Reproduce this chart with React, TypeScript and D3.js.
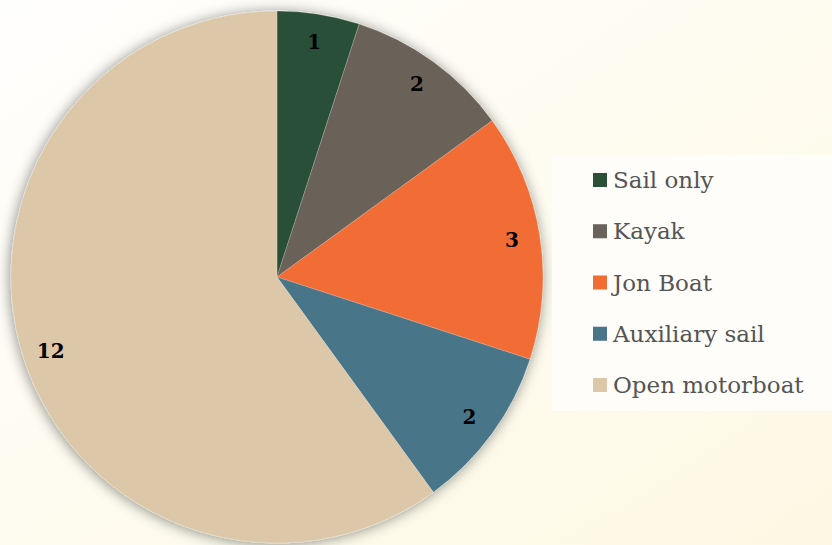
import React from "react";
import * as d3 from "d3";

const categories = ["Sail only", "Kayak", "Jon Boat", "Auxiliary sail", "Open motorboat"];
const values = [1, 2, 3, 2, 12];
const colors = ["#2b5037", "#6b6259", "#f26d35", "#4a7489", "#dcc8a8"];

const W = 832;
const H = 545;

export default function App() {
  const cx = 277;
  const cy = 277;
  const R = 266;
  const pie = d3.pie<number>().sort(null).value((d) => d)(values);
  const arc = d3.arc<d3.PieArcDatum<number>>().innerRadius(0).outerRadius(R);
  const labelArc = d3.arc<d3.PieArcDatum<number>>().innerRadius(238).outerRadius(238);
  const legendY = d3.scalePoint<string>().domain(categories).range([180, 385]);

  return (
    <svg width={W} height={H} style={{ position: "absolute", left: 0, top: 0, display: "block" }}>
      <defs>
        <linearGradient id="bg" x1="0" y1="0" x2="1" y2="1">
          <stop offset="0" stopColor="#fefefd" />
          <stop offset="0.5" stopColor="#fefcf0" />
          <stop offset="1" stopColor="#fdf8e3" />
        </linearGradient>
        <filter id="shadow" x="-20%" y="-20%" width="140%" height="140%">
          <feDropShadow dx="-1" dy="1" stdDeviation="7" floodColor="#000" floodOpacity="0.45" />
        </filter>
      </defs>
      <rect x={0} y={0} width={W} height={H} fill="url(#bg)" />
      <g transform={`translate(${cx},${cy})`} filter="url(#shadow)">
        {pie.map((p, i) => (
          <path key={i} d={arc(p) || ""} fill={colors[i]} stroke="#ffffff" strokeWidth={0.5} strokeOpacity={0.4} />
        ))}
      </g>
      <g transform={`translate(${cx},${cy})`}>
        {pie.map((p, i) => {
          const [x, y] = labelArc.centroid(p);
          return (
            <text
              key={i}
              x={x}
              y={y}
              textAnchor="middle"
              dominantBaseline="central"
              fontFamily="'DejaVu Serif', serif"
              fontWeight="bold"
              fontSize={20}
              fill="#000"
            >
              {values[i]}
            </text>
          );
        })}
      </g>
      <rect x={552} y={155} width={290} height={256} fill="#fefdf9" />
      {categories.map((c, i) => {
        const y = legendY(c) as number;
        return (
          <g key={c}>
            <rect x={593} y={y - 7} width={14} height={14} fill={colors[i]} />
            <text
              x={613}
              y={y}
              dominantBaseline="central"
              fontFamily="'DejaVu Serif', serif"
              fontSize={23}
              fill="#555555"
            >
              {c}
            </text>
          </g>
        );
      })}
    </svg>
  );
}
